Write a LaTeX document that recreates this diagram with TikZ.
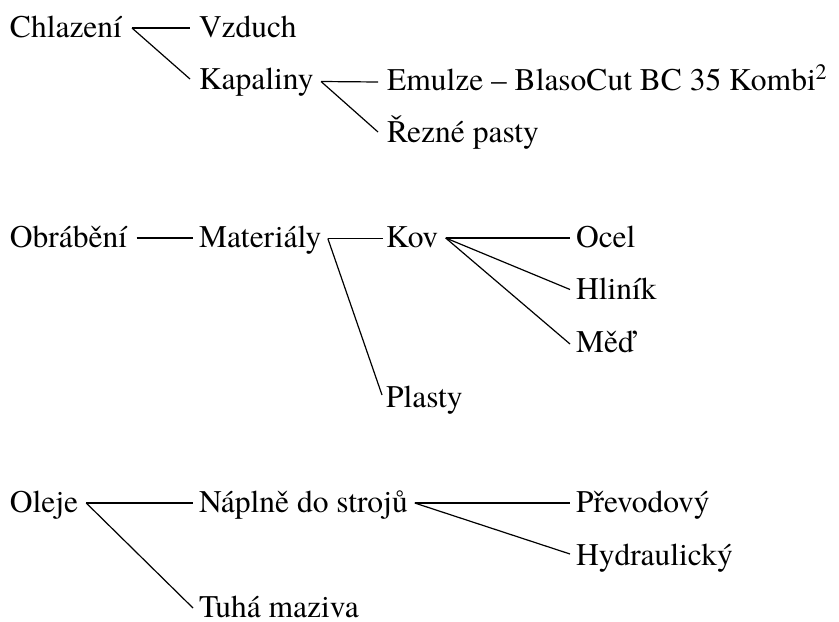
\documentclass[tikz,border=0pt]{standalone}
\usepackage{fontspec}
\newfontfamily\termes{texgyretermes}[Extension=.otf,UprightFont=*-regular,BoldFont=*-bold,ItalicFont=*-italic,BoldItalicFont=*-bolditalic]
\begin{document}
\begin{tikzpicture}[x=0.5pt,y=-0.5pt,
  lbl/.style={anchor=base west,inner sep=0pt,outer sep=0pt},
  conn/.style={line width=0.6pt,black}]
\useasboundingbox (0,0) rectangle (839,621);
\newcommand{\T}[1]{\termes\fontsize{15.75}{18}\selectfont #1}
\newcommand{\conn}[6]{\draw[conn] ([shift={(#3,#4)}]#1.base east) -- ([shift={(-#5,#6)}]#2.base west);}
% top group
\node[lbl] (chl) at (10,37) {\T{Chlazení}};
\node[lbl] (vzd) at (199,37) {\T{Vzduch}};
\node[lbl] (kap) at (199,89.5) {\T{Kapaliny}};
\node[lbl] (emu) at (387,90) {\T{Emulze – BlasoCut BC 35 Kombi\textsuperscript{2}}};
\node[lbl] (rez) at (387,142) {\T{Řezné pasty}};
% middle group
\node[lbl] (obr) at (10,247) {\T{Obrábění}};
\node[lbl] (mat) at (199,247) {\T{Materiály}};
\node[lbl] (kov) at (386,247) {\T{Kov}};
\node[lbl] (oce) at (576,247) {\T{Ocel}};
\node[lbl] (hli) at (576,299.5) {\T{Hliník}};
\node[lbl] (med) at (576,352) {\T{Měď}};
\node[lbl] (pla) at (386,407) {\T{Plasty}};
% bottom group
\node[lbl] (ole) at (10,512) {\T{Oleje}};
\node[lbl] (nap) at (199,512) {\T{Náplně do strojů}};
\node[lbl] (pre) at (576,512) {\T{Převodový}};
\node[lbl] (hyd) at (576,565) {\T{Hydraulický}};
\node[lbl] (tuh) at (199,617) {\T{Tuhá maziva}};
% connectors
\conn{chl}{vzd}{10}{-9}{9}{-9}
\conn{chl}{kap}{10}{-9}{9}{-10.5}
\conn{kap}{emu}{7.5}{-8}{9}{-8}
\conn{kap}{rez}{7.5}{-8}{9}{-10}
\conn{obr}{mat}{9.5}{-9}{6}{-9}
\conn{mat}{kov}{6.5}{-8.5}{3}{-8.5}
\conn{mat}{pla}{6.5}{-8.5}{4}{-12}
\conn{kov}{oce}{7.5}{-9}{6}{-9}
\conn{kov}{hli}{7.5}{-9}{6}{-10}
\conn{kov}{med}{7.5}{-9}{6}{-8}
\conn{ole}{nap}{8}{-9}{6}{-9}
\conn{ole}{tuh}{8}{-9}{6}{-9}
\conn{nap}{pre}{7}{-9}{6}{-9}
\conn{nap}{hyd}{7}{-9}{6}{-11}
\end{tikzpicture}
\end{document}
